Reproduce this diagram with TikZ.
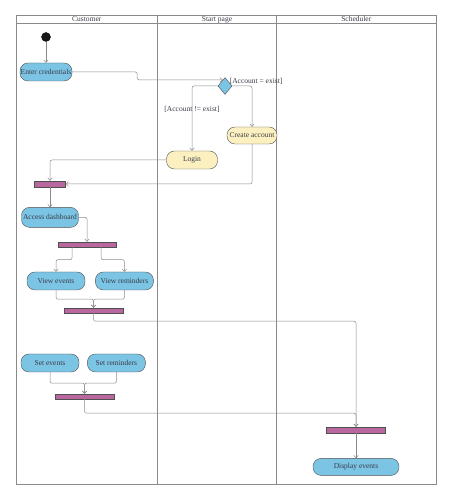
\documentclass[tikz,border=0pt]{standalone}
\usepackage{fontspec}
\setmainfont{Liberation Serif}
\usetikzlibrary{positioning}
\usetikzlibrary{shapes.geometric}
\usetikzlibrary{arrows.meta}
\definecolor{actblue}{HTML}{7CC4E4}
\definecolor{actyellow}{HTML}{FCF0C0}
\definecolor{barpink}{HTML}{B9679F}
\definecolor{edgegray}{HTML}{8A8A8A}
\definecolor{rimgray}{HTML}{505050}
\definecolor{inkgray}{HTML}{3A3A48}
\tikzset{
    activity diagram/.style={
            x=1pt,y=1pt,
            font=\fontsize{7.5}{8}\selectfont,text=inkgray,
            lane/.style={draw=edgegray,line width=0.6pt},
            header/.style={text height=5pt,text depth=1.5pt,inner sep=0pt},
            activity/.style={draw=rimgray,fill=actblue,rounded corners=8pt,
                    minimum width=58pt,minimum height=18pt,inner sep=0pt},
            page/.style={activity,fill=actyellow},
            bar/.style={draw=rimgray,fill=barpink,minimum width=59pt,
                    minimum height=5pt,inner sep=0pt},
            guard/.style={inner sep=0pt},
            flow/.style={draw=edgegray,line width=0.5pt,rounded corners=2pt,
                    -{Straight Barb[length=2.5pt,width=4.5pt]}}
        }
    }
\begin{document}
\begin{tikzpicture}[activity diagram]
                \useasboundingbox (0,0) rectangle (452,500);
                % swimlanes
                \draw [lane] (16,16) rectangle (436,485);
                \draw [lane] (16,476.5) -- (436,476.5);
                \draw [lane] (157.5,16) -- (157.5,485);
                \draw [lane] (276.5,16) -- (276.5,485);
                \node (customer) [header] at (86.75,480.5) {Customer};
                \node (startpage) [header] at (217,480.5) {Start page};
                \node (scheduler) [header] at (356.25,480.5) {Scheduler};
                % activities
                \node (start) [circle,fill=black!90,draw=black,minimum size=9pt,inner sep=0pt] at (46,463) {};
                \node (cred) [activity,minimum width=52pt] at (46,428) {Enter credentials};
                \node (dec) [diamond,draw=rimgray,fill=actblue,minimum width=14pt,minimum height=17pt,inner sep=0pt] at (225,414) {};
                \node (yes) [guard,right=1pt of dec.north east] {[Account = exist]};
                \node (create) [page,minimum width=50pt,minimum height=17pt] at (252,364.5) {Create account};
                \node (login) [page,minimum width=51pt] at (192,340) {Login};
                \node (bar1) [bar,minimum width=31pt,minimum height=6pt] at (50,316) {};
                \node (access) [activity,minimum width=57pt,minimum height=20pt,below=20pt of bar1] {Access dashboard};
                \node (bar2) [bar,minimum width=58pt] at (87,255.5) {};
                \node (vev) [activity] at (56,219) {View events};
                \node (vrem) [activity,right=10pt of vev] {View reminders};
                \node (bar3) [bar] at (93.5,189.5) {};
                \node (sev) [activity] at (50,137) {Set events};
                \node (srem) [activity,right=8pt of sev] {Set reminders};
                \node (bar5) [bar] at (84.5,103.5) {};
                \node (bar4) [bar,minimum height=6pt] at (356,70) {};
                \node (disp) [activity,minimum width=86pt,minimum height=17pt,below=25pt of bar4] {Display events};
                % flows
                \draw [flow] (start) -- (cred);
                \draw [flow] (cred.east) -- ++(65,0) |- (dec.110);
                \draw [flow] (dec.west) -| node [guard,pos=0.68] {[Account != exist]} (login.north);
                \draw [flow] (dec.east) -| (create.north);
                \draw [flow] (login.west) -| (bar1.north);
                \draw [flow] (create.south) |- (bar1.east);
                \draw [flow] (bar1.south) -- (access.north);
                \draw [flow] (access.east) -| (bar2.north);
                \draw [flow] ([xshift=-15pt]bar2.south) -- ++(0,-12.5) -| (vev.north);
                \draw [flow] ([xshift=14pt]bar2.south) -- ++(0,-12.5) -| (vrem.north);
                \draw [flow] (vev.south) -- ++(0,-9) -| (bar3.north);
                \draw [flow] (vrem.south) -- ++(0,-9) -| (bar3.north);
                \draw [flow] (bar3.south) -- ++(0,-8) -| (bar4.north);
                \draw [flow] (sev.south) -- ++(0,-11) -| (bar5.north);
                \draw [flow] (srem.south) -- ++(0,-11) -| (bar5.north);
                \draw [flow] (bar5.south) -- ++(0,-14) -| (bar4.north);
                \draw [flow] (bar4.south) -- (disp.north);
            \end{tikzpicture}
\end{document}
